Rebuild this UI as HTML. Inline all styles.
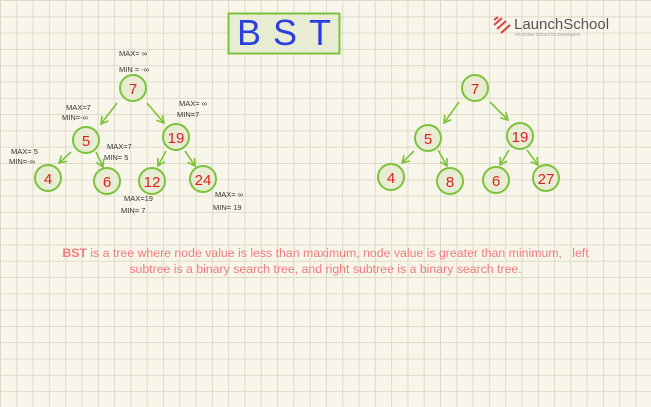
<!DOCTYPE html>
<html><head><meta charset="utf-8"><style>
html,body{margin:0;padding:0}
body{width:651px;height:407px;overflow:hidden;background:#f8f6ea;
background-image:linear-gradient(to right,#dedac8 1px,transparent 1px),linear-gradient(to bottom,#dedac8 1px,transparent 1px);
background-size:16.3px 16.3px;position:relative;font-family:"Liberation Sans",sans-serif}
svg{position:absolute;left:0;top:0}
.t{position:absolute;left:0;width:651px;text-align:center;color:#f07c7c;font-size:12.3px;line-height:14px}
</style></head><body>
<svg width="651" height="407" viewBox="0 0 651 407">
<defs><marker id="a" markerWidth="10" markerHeight="10" refX="8" refY="5" orient="auto" markerUnits="userSpaceOnUse"><path d="M1,1 L8,5 L1,9" fill="none" stroke="#7cc23a" stroke-width="1.6"/></marker></defs>
<rect x="228.5" y="13.5" width="111" height="40" fill="#e7ecd3" stroke="#7cc23a" stroke-width="2"/>
<text x="237" y="45" font-family="Liberation Sans" font-size="36" fill="#2b3fe0" letter-spacing="12">BST</text>
<g stroke="#e53c3c" stroke-width="2"><line x1="494" y1="20" x2="498" y2="17"/><line x1="494" y1="25" x2="502" y2="18"/><line x1="497" y1="29" x2="506" y2="21"/><line x1="501" y1="33" x2="510" y2="25"/></g>
<text x="514" y="29" font-size="15" fill="#555" font-family="Liberation Sans">LaunchSchool</text>
<text x="515" y="36" font-size="4.5" fill="#999" font-family="Liberation Sans">An Online School for Developers</text>
<g stroke="#7cc23a" stroke-width="1.6" fill="none" marker-end="url(#a)">
<line x1="117" y1="103" x2="101" y2="124"/><line x1="147" y1="103" x2="164" y2="123"/>
<line x1="71" y1="152" x2="59" y2="163"/><line x1="96" y1="152" x2="103" y2="167"/>
<line x1="166" y1="151" x2="158" y2="166"/><line x1="185" y1="151" x2="195" y2="166"/>
<line x1="459" y1="102" x2="444" y2="123"/><line x1="490" y1="102" x2="508" y2="120"/>
<line x1="414" y1="151" x2="402" y2="163"/><line x1="438" y1="150" x2="447" y2="166"/>
<line x1="509" y1="150" x2="500" y2="165"/><line x1="527" y1="150" x2="538" y2="165"/>
</g>
<g fill="#e8ecd4" stroke="#7cc23a" stroke-width="2">
<circle cx="133" cy="88" r="13"/><circle cx="86" cy="140" r="13"/><circle cx="176" cy="137" r="13"/>
<circle cx="48" cy="178" r="13"/><circle cx="107" cy="181" r="13"/><circle cx="152" cy="181" r="13"/><circle cx="203" cy="179" r="13"/>
<circle cx="475" cy="88" r="13"/><circle cx="428" cy="138" r="13"/><circle cx="520" cy="136" r="13"/>
<circle cx="391" cy="177" r="13"/><circle cx="450" cy="181" r="13"/><circle cx="496" cy="180" r="13"/><circle cx="546" cy="178" r="13"/>
</g>
<g fill="#e02020" font-size="15" text-anchor="middle" font-family="Liberation Sans">
<text x="133" y="94">7</text><text x="86" y="146">5</text><text x="176" y="143">19</text>
<text x="48" y="184">4</text><text x="107" y="187">6</text><text x="152" y="187">12</text><text x="203" y="185">24</text>
<text x="475" y="94">7</text><text x="428" y="144">5</text><text x="520" y="142">19</text>
<text x="391" y="183">4</text><text x="450" y="187">8</text><text x="496" y="186">6</text><text x="546" y="184">27</text>
</g>
<g fill="#333" font-size="7.5" font-family="Liberation Sans">
<text x="119" y="56">MAX= ∞</text><text x="119" y="72">MIN = -∞</text>
<text x="66" y="110">MAX=7</text><text x="62" y="120">MIN=-∞</text>
<text x="179" y="106">MAX= ∞</text><text x="177" y="117">MIN=7</text>
<text x="11" y="154">MAX= 5</text><text x="9" y="164">MIN=-∞</text>
<text x="107" y="149">MAX=7</text><text x="104" y="160">MIN= 5</text>
<text x="124" y="201">MAX=19</text><text x="121" y="213">MIN= 7</text>
<text x="215" y="197">MAX= ∞</text><text x="213" y="210">MIN= 19</text>
</g>
</svg>
<div class="t" style="top:246px"><b>BST</b> is a tree where node value is less than maximum, node value is greater than minimum, &nbsp; left</div>
<div class="t" style="top:262px">subtree is a binary search tree, and right subtree is a binary search tree.</div>
</body></html>
